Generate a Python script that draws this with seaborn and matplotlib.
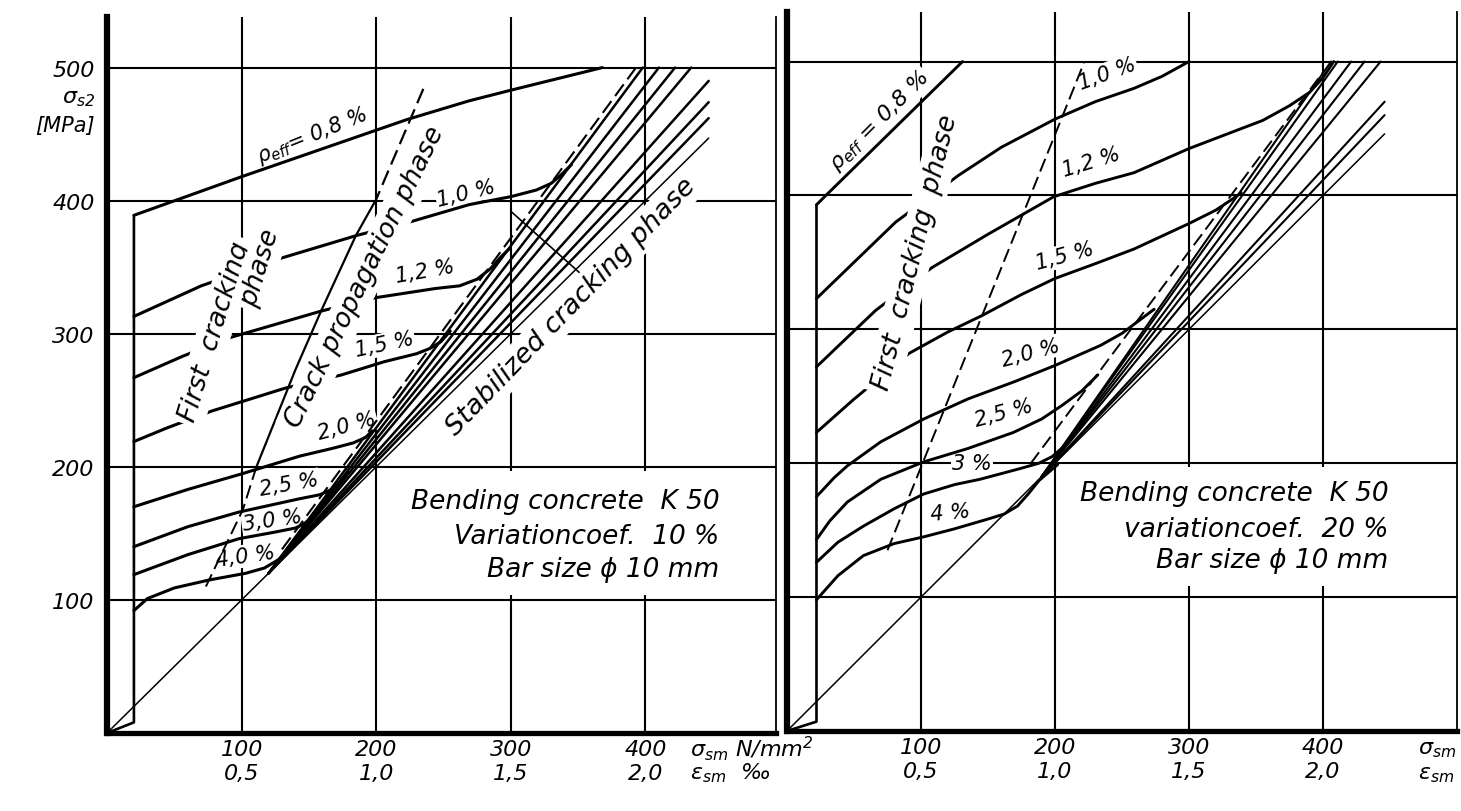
import matplotlib
matplotlib.use("Agg")
import matplotlib.pyplot as plt
import seaborn as sns
from matplotlib.patches import Rectangle

# ------------------------------------------------------------------ data
X_TICKS = [100, 200, 300, 400]
X_TICK_LABELS = ["100\n0,5", "200\n1,0", "300\n1,5", "400\n2,0"]
Y_TICKS = [100, 200, 300, 400, 500]
Y_TICK_LABELS = ["100", "200", "300", "400", "500"]

# ---- left panel: variation coefficient 10 %
L_FIRST_X = [0, 20, 20]
L_FIRST_Y = [0, 8, 389]
L08_X = [20, 100, 223, 269, 300, 368]
L08_Y = [389, 418, 461, 475, 483, 500]
L10_X = [20, 70, 130, 186, 225, 269, 300, 319, 330, 338, 345]
L10_Y = [313, 336, 357, 374, 384, 397, 403, 408, 413, 420, 427]
L12_X = [20, 56, 91, 159, 199, 244, 262, 275, 285, 292, 299]
L12_Y = [267, 283, 297, 317, 327, 334, 336, 341, 349, 357, 364]
L15_X = [20, 44, 78, 132, 174, 206, 230, 240, 248, 255]
L15_Y = [219, 229, 242, 259, 269, 279, 285, 289, 294, 302]
L20_X = [20, 60, 101, 143, 168, 183, 192, 197]
L20_Y = [170, 183, 195, 208, 214, 218, 222, 227]
L25_X = [20, 60, 98, 143, 158, 167, 173, 179]
L25_Y = [140, 155, 166, 176, 179, 183, 188, 196]
L30_X = [20, 60, 98, 125, 140, 146, 150]
L30_Y = [119, 134, 146, 151, 154, 157, 160]
L40_X = [20, 30, 50, 76, 103, 117, 127, 134]
L40_Y = [92, 101, 109, 115, 120, 124, 130, 136]
L_BASE_X = [0, 447]
L_BASE_Y = [0, 447]
L_FAN_FROM = (120, 120)
L_FAN_TOP_X = [398, 410, 422, 434, 447, 447, 447]
L_FAN_TOP_Y = [500, 500, 500, 500, 490, 474, 462]
L_STAB_X = [130, 393]
L_STAB_Y = [138, 500]
L_CRACK_TOP_X = [235, 200]
L_CRACK_TOP_Y = [484, 401]
L_CRACK_MID_X = [200, 185, 159, 140, 111]
L_CRACK_MID_Y = [401, 374, 317, 273, 200]
L_CRACK_LOW_X = [111, 101, 72]
L_CRACK_LOW_Y = [200, 168, 107]
L_CROSS_X = [300, 352]
L_CROSS_Y = [392, 345]

# ---- right panel: variation coefficient 20 %
R_FIRST_X = [0, 22, 22]
R_FIRST_Y = [0, 7, 393]
R08_X = [22, 28, 131]
R08_Y = [393, 399, 500]
R10_X = [22, 81, 128, 160, 200, 230, 259, 280, 300]
R10_Y = [323, 380, 415, 436, 457, 470, 480, 489, 500]
R12_X = [22, 66, 108, 150, 199, 230, 259, 300, 334, 355, 375, 390, 400, 408]
R12_Y = [272, 314, 346, 371, 399, 409, 417, 435, 448, 456, 467, 477, 488, 500]
R15_X = [22, 49, 91, 120, 145, 175, 200, 230, 259, 300, 320, 332, 339]
R15_Y = [223, 247, 282, 298, 310, 326, 338, 349, 360, 379, 389, 397, 402]
R20_X = [22, 35, 45, 70, 102, 135, 170, 200, 234, 250, 262, 274]
R20_Y = [175, 189, 198, 216, 233, 248, 261, 273, 288, 297, 306, 315]
R25_X = [22, 32, 45, 70, 102, 135, 169, 190, 205, 220, 232]
R25_Y = [143, 157, 171, 188, 201, 211, 223, 233, 243, 254, 266]
R30_X = [22, 38, 57, 80, 102, 125, 144, 174, 188, 198, 206]
R30_Y = [126, 141, 153, 166, 177, 184, 188, 196, 200, 205, 212]
R40_X = [22, 38, 57, 80, 102, 125, 149, 162, 172, 180, 188, 202]
R40_Y = [98, 116, 131, 140, 145, 151, 158, 162, 168, 177, 187, 199]
R_BASE_X = [0, 446]
R_BASE_Y = [0, 446]
R_FAN_FROM = (190, 190)
R_FAN_TOP_X = [406, 411, 421, 431, 443, 446, 446]
R_FAN_TOP_Y = [500, 500, 500, 500, 500, 470, 460]
R_STAB_X = [182, 400]
R_STAB_Y = [200, 492]
R_CRACK_X = [75, 222]
R_CRACK_Y = [135, 500]

# ------------------------------------------------------------------ style
sns.set_theme(style="white")
plt.rcParams.update({
    "font.family": ["DejaVu Sans"],
    "font.style": "italic",
    "mathtext.fontset": "dejavusans",
    "text.color": "black",
    "axes.edgecolor": "black",
    "xtick.color": "black",
    "ytick.color": "black",
    "lines.solid_joinstyle": "round",
})

DASH = (0, (7, 3))


def line(ax, xs, ys, lw=2.2, ls="-", z=3):
    sns.lineplot(x=xs, y=ys, ax=ax, color="black", linewidth=lw, linestyle=ls,
                 sort=False, estimator=None, errorbar=None, legend=False,
                 zorder=z)


def label(ax, x, y, s, rot=0, size=14, z=2.5, pad=1.0, ha="center"):
    ax.text(x, y, s, rotation=rot, rotation_mode="anchor", ha=ha, va="center",
            fontsize=size, zorder=z,
            bbox=dict(facecolor="white", edgecolor="none", pad=pad))


def setup(ax, xmax, ymax, show_y):
    ax.set_xlim(0, xmax)
    ax.set_ylim(0, ymax)
    ax.set_xticks(X_TICKS)
    ax.set_xticklabels(X_TICK_LABELS, linespacing=1.25)
    ax.set_yticks(Y_TICKS)
    ax.set_yticklabels(Y_TICK_LABELS if show_y else [])
    ax.grid(True, color="black", linewidth=1.5)
    ax.set_axisbelow(True)
    ax.tick_params(axis="x", length=0, labelsize=16, pad=4)
    ax.tick_params(axis="y", length=0, labelsize=16, pad=9)
    ax.spines["top"].set_visible(False)
    ax.spines["left"].set_linewidth(4.5)
    ax.spines["bottom"].set_linewidth(3.8)
    ax.spines["right"].set_linewidth(1.3)
    for s in ax.spines.values():
        s.set_color("black")
    ax.set_xlabel("")
    ax.set_ylabel("")
    ax.set_facecolor("white")


fig = plt.figure(figsize=(14.61, 8.12), dpi=100)
axL = fig.add_axes([107 / 1461, 78 / 812, 669 / 1461, 716 / 812])
axR = fig.add_axes([787 / 1461, 80 / 812, 670 / 1461, 719 / 812])

# ------------------------------------------------------------------ left
ax = axL
line(ax, L_FIRST_X, L_FIRST_Y, lw=1.9)
line(ax, L_BASE_X, L_BASE_Y, lw=1.1)
for tx, ty in zip(L_FAN_TOP_X, L_FAN_TOP_Y):
    line(ax, [L_FAN_FROM[0], tx], [L_FAN_FROM[1], ty], lw=1.8)
line(ax, L_STAB_X, L_STAB_Y, lw=1.5, ls=DASH)
line(ax, L_CRACK_TOP_X, L_CRACK_TOP_Y, lw=1.6, ls=DASH)
line(ax, L_CRACK_MID_X, L_CRACK_MID_Y, lw=1.6)
line(ax, L_CRACK_LOW_X, L_CRACK_LOW_Y, lw=1.4, ls=DASH)
line(ax, L_CROSS_X, L_CROSS_Y, lw=1.2)
for xs, ys in [(L08_X, L08_Y), (L10_X, L10_Y), (L12_X, L12_Y), (L15_X, L15_Y),
               (L20_X, L20_Y), (L25_X, L25_Y), (L30_X, L30_Y), (L40_X, L40_Y)]:
    line(ax, xs, ys, lw=2.2)
setup(ax, 497, 538, True)
ax.add_patch(Rectangle((215, 104), 265, 93, facecolor="white",
                       edgecolor="none", zorder=1))

label(ax, 152, 449, r"$\rho_{eff}$= 0,8 %", rot=22, size=15)
label(ax, 80, 302, "First  cracking", rot=73, size=19, z=5, pad=3)
label(ax, 114, 350, "phase", rot=73, size=19, z=5, pad=3)
label(ax, 192, 343, "Crack propagation phase", rot=64, size=19, z=5, pad=3)
label(ax, 345, 321, "Stabilized cracking phase", rot=46, size=19.5, z=5,
      pad=3)
for s, x, y, r in [("1,0 %", 267, 406, 14), ("1,2 %", 236, 347, 10),
                   ("1,5 %", 206, 292, 12), ("2,0 %", 178, 231, 15),
                   ("2,5 %", 135, 187, 10), ("3,0 %", 123, 160, 8),
                   ("4,0 %", 103, 133, 8)]:
    label(ax, x, y, s, rot=r, size=15)
for s, y in [("Bending concrete  K 50", 174), ("Variationcoef.  10 %", 148),
             ("Bar size ϕ 10 mm", 123)]:
    ax.text(455, y, s, ha="right", va="center", fontsize=19, zorder=4)
ax.text(-9, 477, r"$\sigma_{s2}$", ha="right", va="center", fontsize=16,
        clip_on=False)
ax.text(-9, 457, "[MPa]", ha="right", va="center", fontsize=15, clip_on=False)
tr = ax.get_xaxis_transform()
ax.text(433, -0.02, r"$\sigma_{sm}$ N/mm$^2$", transform=tr, ha="left",
        va="center", fontsize=16, clip_on=False)
ax.text(433, -0.055, r"$\varepsilon_{sm}$  ‰", transform=tr, ha="left",
        va="center", fontsize=16, clip_on=False)

# ------------------------------------------------------------------ right
ax = axR
line(ax, R_FIRST_X, R_FIRST_Y, lw=1.9)
line(ax, R_BASE_X, R_BASE_Y, lw=1.1)
for tx, ty in zip(R_FAN_TOP_X, R_FAN_TOP_Y):
    line(ax, [R_FAN_FROM[0], tx], [R_FAN_FROM[1], ty], lw=1.5)
line(ax, R_STAB_X, R_STAB_Y, lw=1.4, ls=DASH)
line(ax, R_CRACK_X, R_CRACK_Y, lw=1.4, ls=DASH)
for xs, ys in [(R08_X, R08_Y), (R10_X, R10_Y), (R12_X, R12_Y), (R15_X, R15_Y),
               (R20_X, R20_Y), (R25_X, R25_Y), (R30_X, R30_Y), (R40_X, R40_Y)]:
    line(ax, xs, ys, lw=2.1)
setup(ax, 500, 537, False)
ax.add_patch(Rectangle((215, 108), 265, 89, facecolor="white",
                       edgecolor="none", zorder=1))

label(ax, 69, 456, r"$\rho_{eff}$ = 0,8 %", rot=45, size=16)
label(ax, 96, 358, "First  cracking  phase", rot=76, size=19, z=5, pad=3)
for s, x, y, r in [("1,0 %", 239, 491, 20), ("1,2 %", 227, 425, 17),
                   ("1,5 %", 207, 355, 15), ("2,0 %", 182, 283, 15),
                   ("2,5 %", 162, 238, 15), ("3 %", 138, 200, 0),
                   ("4 %", 122, 163, 5)]:
    label(ax, x, y, s, rot=r, size=15)
for s, y in [("Bending concrete  K 50", 178), ("variationcoef.  20 %", 151),
             ("Bar size ϕ 10 mm", 128)]:
    ax.text(449, y, s, ha="right", va="center", fontsize=19, zorder=4)
tr = ax.get_xaxis_transform()
ax.text(471, -0.025, r"$\sigma_{sm}$", transform=tr, ha="left", va="center",
        fontsize=16, clip_on=False)
ax.text(471, -0.06, r"$\varepsilon_{sm}$", transform=tr, ha="left",
        va="center", fontsize=16, clip_on=False)

fig.savefig("out.png", dpi=100, facecolor="white")
